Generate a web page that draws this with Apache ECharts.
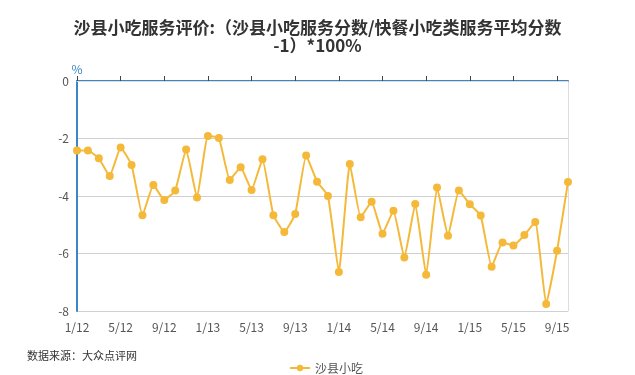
<!DOCTYPE html>
<html><head><meta charset="utf-8">
<script src="https://cdn.jsdelivr.net/npm/echarts@6/dist/echarts.min.js"></script>
<style>html,body{margin:0;padding:0;background:#fff}#c{width:635px;height:375px}</style>
</head><body><div id="c"></div>
<script>
const months = ['1/12','2/12','3/12','4/12','5/12','6/12','7/12','8/12','9/12','10/12','11/12','12/12',
'1/13','2/13','3/13','4/13','5/13','6/13','7/13','8/13','9/13','10/13','11/13','12/13',
'1/14','2/14','3/14','4/14','5/14','6/14','7/14','8/14','9/14','10/14','11/14','12/14',
'1/15','2/15','3/15','4/15','5/15','6/15','7/15','8/15','9/15','10/15'];
const shaxian = [-2.42,-2.42,-2.69,-3.30,-2.31,-2.92,-4.67,-3.62,-4.14,-3.81,-2.38,-4.05,
-1.91,-1.98,-3.44,-3.00,-3.79,-2.72,-4.67,-5.25,-4.63,-2.59,-3.50,-4.00,
-6.64,-2.89,-4.74,-4.20,-5.31,-4.51,-6.14,-4.28,-6.74,-3.70,-5.38,-3.81,
-4.29,-4.68,-6.46,-5.62,-5.72,-5.36,-4.90,-7.76,-5.90,-3.51];
const yTicks = {min:-8, max:0, interval:2};
const titleText = '沙县小吃服务评价:（沙县小吃服务分数/快餐小吃类服务平均分数\n-1）*100%';
const sourceText = '数据来源：大众点评网';
const seriesName = '沙县小吃';

const chart = echarts.init(document.getElementById('c'));
const ff = '"Noto Sans CJK SC", "Noto Sans", sans-serif';
chart.setOption({
  animation:false,
  textStyle:{fontFamily:ff},
  title:{text:titleText,left:'center',top:14,textStyle:{fontSize:17,fontWeight:'bold',color:'#333',lineHeight:18,fontFamily:ff}},
  legend:{data:[seriesName],left:284,top:357,itemWidth:20,itemHeight:8,textStyle:{fontSize:12,color:'#555'}},
  grid:{left:77,right:67,top:81,bottom:64},
  graphic:[{type:'text',left:27,top:350,style:{text:sourceText,fontSize:11,fill:'#333',fontFamily:ff}}],
  xAxis:[
    {type:'category',data:months,boundaryGap:false,position:'top',
     axisLine:{lineStyle:{color:'#3b86c6',width:2}},
     axisTick:{show:true,interval:3,length:5,lineStyle:{color:'#444'}},
     axisLabel:{show:false},splitLine:{show:false}},
    {type:'category',data:months,boundaryGap:false,position:'bottom',
     axisLine:{show:true,lineStyle:{color:'#ddd'}},axisTick:{show:false},
     axisLabel:{interval:3,color:'#555',fontSize:12,margin:10},splitLine:{show:false}}
  ],
  yAxis:[
    {type:'value',min:yTicks.min,max:yTicks.max,interval:yTicks.interval,name:'%',nameGap:4,
     nameTextStyle:{color:'#3b86c6',fontSize:12,align:'center'},
     axisLine:{show:true,lineStyle:{color:'#3b86c6',width:2}},axisTick:{show:false},
     axisLabel:{color:'#555',fontSize:12,margin:8},
     splitLine:{lineStyle:{color:'#d0d0d0'}}},
    {type:'value',min:yTicks.min,max:yTicks.max,interval:yTicks.interval,position:'right',
     axisLine:{show:true,lineStyle:{color:'#ddd'}},axisTick:{show:false},axisLabel:{show:false},splitLine:{show:false}}
  ],
  series:[{name:seriesName,type:'line',data:shaxian,xAxisIndex:0,yAxisIndex:0,smooth:0.12,
    symbol:'circle',symbolSize:8,showSymbol:true,showAllSymbol:true,
    lineStyle:{color:'#f5b93a',width:2},itemStyle:{color:'#f5b93a'}}]
});
</script></body></html>
